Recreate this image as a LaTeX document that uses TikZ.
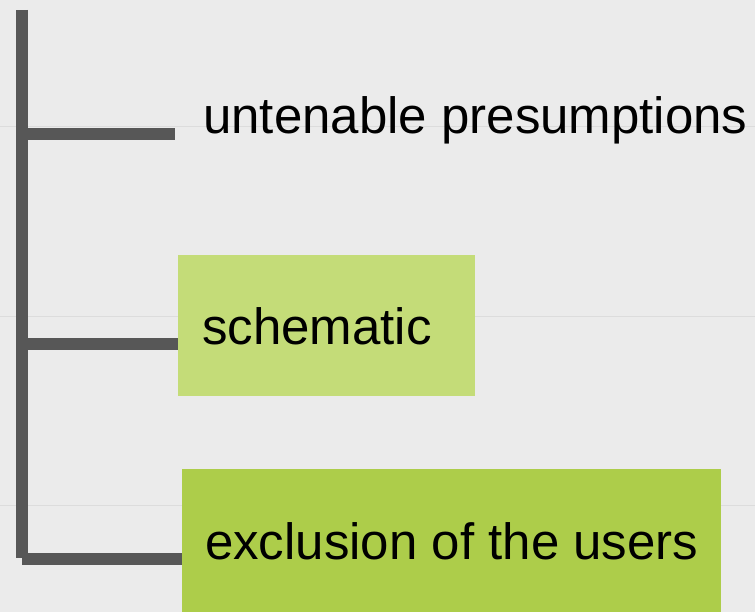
\documentclass[tikz,border=0pt]{standalone}
\usepackage{fontspec}
\setmainfont{Liberation Sans}
\usepackage{xcolor}
\usepackage{tikz}
\usetikzlibrary{positioning}

\definecolor{slidebg}{HTML}{EBEBEB}
\definecolor{guidegray}{HTML}{DCDCDC}
\definecolor{treegray}{HTML}{575757}
\definecolor{palegreen}{HTML}{C4DC78}
\definecolor{leafgreen}{HTML}{ADCD4A}

\begin{document}
\begin{tikzpicture}[x=1bp,y=-1bp,
	branch/.style={draw=treegray,line width=12bp},
	guide/.style={draw=guidegray,line width=1bp},
	item/.style={inner ysep=0pt,text height=37bp,text depth=0bp,
		font=\fontsize{51bp}{60bp}\selectfont},
	itembox/.style={item,rectangle,anchor=north west}
]
\fill[slidebg] (0,0) rectangle (755,612);
\useasboundingbox (0,0) rectangle (755,612);
\foreach \y in {127,316,505}
	\draw[guide] (0,\y) -- (755,\y);
%
\coordinate (top) at (22,10);
\coordinate (bot) at (22,558);
%
\node[item,anchor=base west,inner xsep=28bp] (untenable) at (175,134) {untenable presumptions};
\node[itembox,fill=palegreen,inner xsep=24bp,align=left,text width=249bp,minimum height=141bp] (schematic) at (178,255) {schematic};
\node[itembox,fill=leafgreen,inner xsep=0bp,minimum width=539bp,minimum height=143bp] (exclusion) at (182,469) {exclusion of the users};
%
\draw[branch] (top) -- (bot);
\draw[branch] (top |- untenable.base west) -- (untenable.base west);
\draw[branch] (top |- schematic.base west) -- (schematic.base west);
\draw[branch] (top |- exclusion.base west) -- (exclusion.base west);
\end{tikzpicture}
\end{document}
